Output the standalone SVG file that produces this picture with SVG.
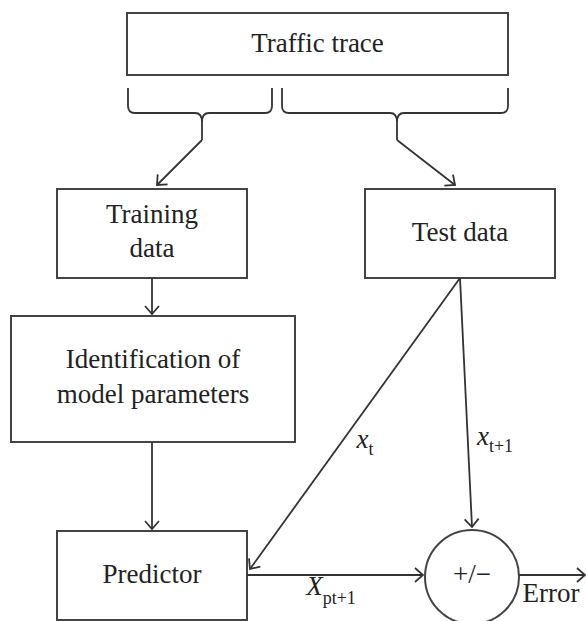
<svg xmlns="http://www.w3.org/2000/svg" width="586" height="621" viewBox="0 0 586 621">
<style>
.box{fill:#fff;stroke:#444;stroke-width:2}
.ln{fill:none;stroke:#333;stroke-width:1.8}
.lbl{font-family:"Liberation Serif","Times New Roman",serif;font-size:27px;fill:#222;text-anchor:middle}
.it{font-style:italic}
.sub{font-size:18px;font-style:normal}
</style>
<defs>
<marker id="ah" markerUnits="userSpaceOnUse" viewBox="0 0 10 16" refX="9" refY="8" markerWidth="10" markerHeight="16" orient="auto">
<path d="M1,1 L9,8 L1,15" fill="none" stroke="#333" stroke-width="1.8"/>
</marker>
</defs>
<g id="traffic-trace">
<rect class="box" x="127" y="13" width="381" height="62"/>
<text class="lbl" x="317.5" y="52">Traffic trace</text>
</g>
<g id="training-data">
<rect class="box" x="57" y="189" width="190" height="89"/>
<text class="lbl" x="152" y="223">Training</text>
<text class="lbl" x="152" y="257">data</text>
</g>
<g id="test-data">
<rect class="box" x="365" y="189" width="190" height="89"/>
<text class="lbl" x="460" y="241">Test data</text>
</g>
<g id="identification">
<rect class="box" x="11" y="316" width="284" height="126"/>
<text class="lbl" x="153" y="368">Identification of</text>
<text class="lbl" x="153" y="403">model parameters</text>
</g>
<g id="predictor">
<rect class="box" x="57" y="531" width="190" height="89"/>
<text class="lbl" x="152" y="583">Predictor</text>
</g>
<g id="sum">
<circle class="box" cx="472" cy="577" r="47"/>
<text class="lbl" x="472" y="583">+/−</text>
</g>
<g id="connectors">
<path class="ln" d="M128,88 V106 Q128,113 135,113 H195 Q202,113 202,122 V140 M272,88 V106 Q272,113 265,113 H209 Q202,113 202,122"/>
<path class="ln" d="M282,88 V106 Q282,113 289,113 H390 Q397,113 397,122 V140 M508,88 V106 Q508,113 501,113 H404 Q397,113 397,122"/>
<line class="ln" x1="202" y1="140" x2="157" y2="185" marker-end="url(#ah)"/>
<line class="ln" x1="397" y1="140" x2="455" y2="185" marker-end="url(#ah)"/>
<line class="ln" x1="152" y1="278" x2="152" y2="314" marker-end="url(#ah)"/>
<line class="ln" x1="152" y1="442" x2="152" y2="529" marker-end="url(#ah)"/>
<line class="ln" x1="460" y1="278" x2="250" y2="569" marker-end="url(#ah)"/>
<line class="ln" x1="460" y1="278" x2="472" y2="527" marker-end="url(#ah)"/>
<line class="ln" x1="247" y1="575" x2="423" y2="575" marker-end="url(#ah)"/>
<line class="ln" x1="519" y1="575" x2="585" y2="575" marker-end="url(#ah)"/>
<text class="lbl" x="365" y="448"><tspan class="it">x</tspan><tspan class="sub" dy="7">t</tspan></text>
<text class="lbl" x="495" y="445"><tspan class="it">x</tspan><tspan class="sub" dy="7">t+1</tspan></text>
<text class="lbl" x="331" y="595"><tspan class="it">X</tspan><tspan class="sub" dy="9">pt+1</tspan></text>
<text class="lbl" x="551" y="602">Error</text>
</g>
</svg>
